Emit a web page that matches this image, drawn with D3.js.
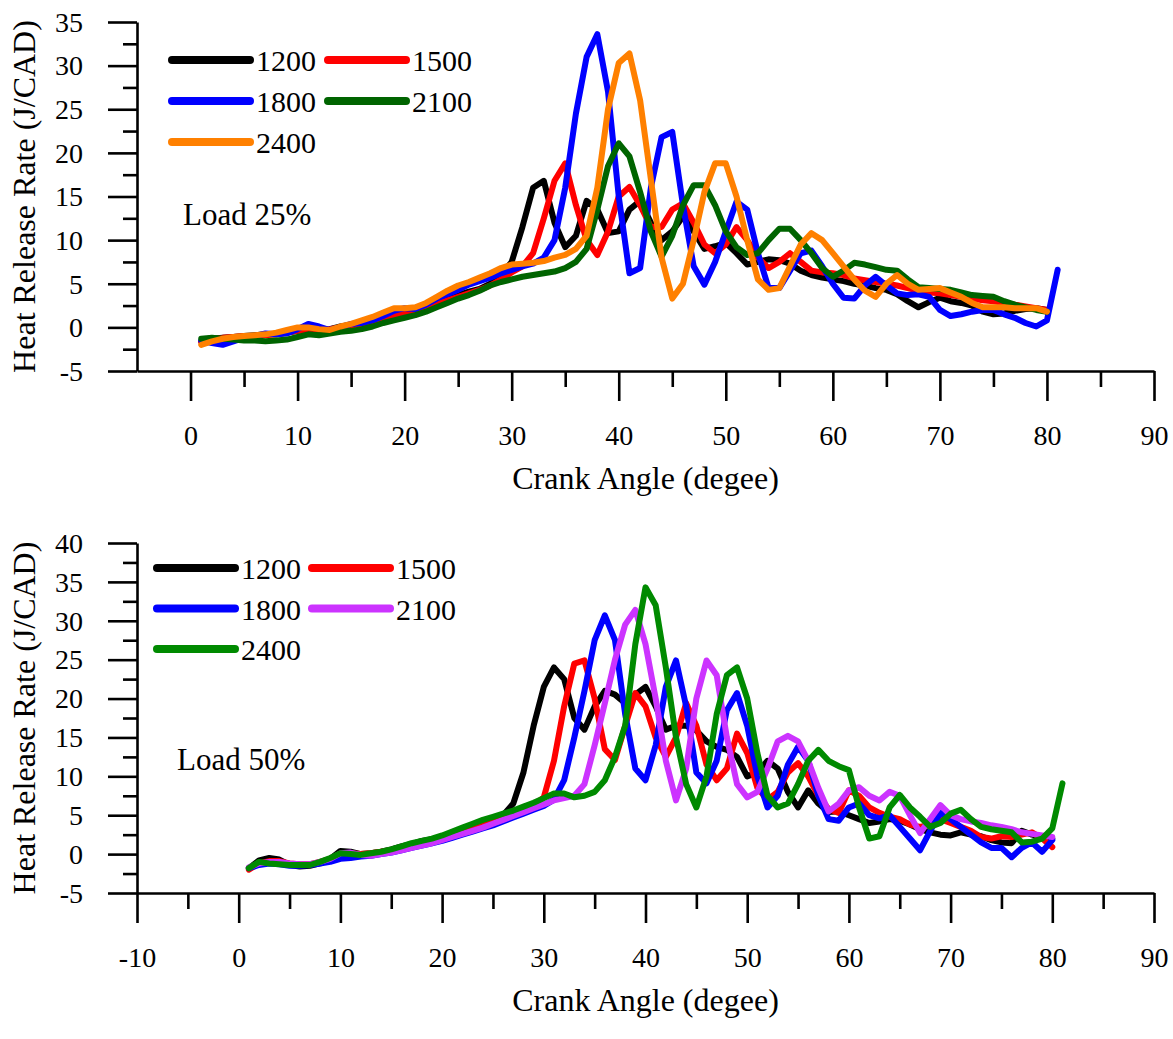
<!DOCTYPE html>
<html>
<head>
<meta charset="utf-8">
<script src="https://cdn.jsdelivr.net/npm/d3@7"></script>
<style>
  body { margin: 0; background: #fff; }
  text { font-family: "Liberation Serif", "Times New Roman", serif; fill: #000; }
</style>
</head>
<body>
<div id="chart"></div>
<script>
///////////////////////////
// DATA (crank angle starts at 1 deg, one value per degree)
///////////////////////////

const speeds = ['1200', '1500', '1800', '2100', '2400'];

// Load 25%
const top1200 = [-1.6,-1.3,-1.2,-1.1,-1.0,-0.9,-0.8,-0.8,-0.6,-0.4,-0.2,-0.3,-0.2,0.1,0.3,0.5,0.8,1.1,1.5,1.8,
    2.0,2.4,2.9,3.3,3.7,4.1,4.4,5.0,6.0,7.5,11.5,16.0,16.8,12.0,9.2,10.5,14.5,13.5,10.8,11.0,
    13.5,14.5,12.0,10.0,11.0,12.7,11.0,9.0,9.3,9.7,8.5,7.2,7.5,7.8,7.7,7.3,6.5,6.0,5.7,5.5,
    5.3,5.0,4.8,4.5,4.3,3.8,3.0,2.3,2.9,3.4,3.0,2.8,2.5,1.8,1.5,1.6,1.9,2.1,2.2,2.0];
const top1500 = [-1.7,-1.4,-1.2,-1.1,-1.0,-1.0,-0.9,-0.8,-0.6,-0.4,-0.3,-0.3,-0.2,0.0,0.2,0.4,0.7,1.0,1.3,1.6,
    1.9,2.3,2.7,3.1,3.5,3.9,4.3,4.8,5.5,6.3,7.0,8.5,12.5,16.8,18.8,14.0,10.0,8.3,11.0,15.0,
    16.1,14.0,11.5,11.5,13.5,14.2,12.0,9.5,8.5,9.5,11.5,10.0,8.0,6.8,7.5,8.5,7.5,6.5,6.3,6.2,
    6.0,5.6,5.4,5.2,5.0,4.8,4.5,4.2,4.0,3.9,3.7,3.5,3.3,3.1,3.0,2.8,2.6,2.4,2.2,2.0];
const top1800 = [-1.5,-1.8,-2.0,-1.6,-1.2,-1.0,-0.7,-0.8,-0.7,-0.2,0.4,0.1,-0.3,0.0,0.4,0.5,0.8,1.3,1.9,2.2,
    2.1,2.6,3.3,3.8,4.3,4.9,5.3,5.7,6.2,6.6,7.0,7.3,8.0,10.0,16.0,24.5,31.0,33.6,27.0,15.0,
    6.2,6.8,16.0,21.8,22.4,14.0,7.0,4.9,7.5,11.0,14.4,13.5,8.5,4.5,4.5,6.5,8.5,8.8,7.0,5.0,
    3.4,3.3,4.8,5.8,4.8,3.9,3.7,3.8,3.5,2.0,1.3,1.5,1.8,2.0,2.0,1.5,1.1,0.5,0.1,0.8,6.6];
const top2100 = [-1.3,-1.2,-1.3,-1.4,-1.5,-1.5,-1.6,-1.5,-1.4,-1.1,-0.8,-0.9,-0.7,-0.5,-0.4,-0.2,0.1,0.5,0.8,1.1,
    1.4,1.8,2.3,2.8,3.3,3.7,4.2,4.8,5.2,5.5,5.8,6.0,6.2,6.4,6.8,7.5,9.0,13.5,18.5,21.1,
    19.6,15.5,11.0,8.1,10.5,14.0,16.3,16.3,14.0,11.0,9.2,8.3,8.5,10.0,11.3,11.3,10.0,8.5,6.8,5.8,
    6.5,7.4,7.2,6.9,6.6,6.5,5.5,4.6,4.5,4.4,4.3,4.0,3.7,3.6,3.5,3.0,2.6,2.3,2.0,1.8];
const top2400 = [-2.0,-1.6,-1.3,-1.1,-1.0,-0.9,-0.8,-0.6,-0.3,0.0,0.0,-0.2,-0.3,0.1,0.4,0.8,1.2,1.7,2.2,2.2,
    2.3,2.8,3.5,4.2,4.8,5.2,5.7,6.2,6.8,7.2,7.3,7.4,7.6,8.0,8.3,9.0,10.5,16.0,25.0,30.3,
    31.4,26.0,17.0,8.0,3.3,5.0,10.0,15.5,18.8,18.8,15.0,10.0,5.5,4.3,4.5,7.0,9.5,10.8,10.0,8.5,
    7.0,5.5,4.2,3.5,5.0,6.0,5.0,4.3,4.4,4.5,4.0,3.5,2.8,2.3,2.3,2.3,2.2,2.2,2.2,1.8];

// Load 50%
const bot1200 = [-1.8,-0.8,-0.5,-0.7,-1.4,-1.6,-1.5,-1.2,-0.6,0.4,0.3,0.0,0.1,0.3,0.6,1.0,1.3,1.7,1.9,2.2,
    2.6,3.0,3.5,4.0,4.5,5.0,6.5,10.5,16.5,21.5,24.0,22.5,17.5,16.0,19.0,21.0,20.5,19.4,20.5,21.5,
    19.0,16.0,16.5,16.5,15.9,14.5,13.8,13.4,12.5,10.0,10.5,12.0,11.0,8.0,6.0,8.2,6.5,5.4,5.5,5.0,
    4.5,4.0,4.2,4.5,4.3,3.8,3.2,2.8,2.5,2.4,2.8,2.5,2.3,1.8,1.5,1.4,3.0,2.5,2.2,2.0];
const bot1500 = [-2.0,-1.2,-0.9,-0.9,-1.2,-1.3,-1.3,-1.0,-0.6,0.0,0.1,0.0,0.1,0.3,0.5,0.8,1.1,1.4,1.7,2.0,
    2.4,2.8,3.2,3.7,4.1,4.6,5.1,5.7,6.3,7.3,12.0,19.0,24.5,24.9,20.0,13.5,12.1,16.5,20.7,19.0,
    15.0,12.5,15.0,19.4,16.5,11.5,9.5,11.0,15.5,13.0,8.5,7.0,8.0,10.5,11.7,10.0,7.5,5.8,5.3,8.2,
    7.5,6.0,5.3,4.8,4.5,3.8,3.5,3.8,4.5,4.0,3.5,3.0,2.2,2.0,2.3,2.2,2.5,2.8,2.0,0.9];
const bot1800 = [-1.8,-1.4,-1.2,-1.3,-1.5,-1.5,-1.4,-1.2,-1.0,-0.6,-0.5,-0.3,-0.2,0.0,0.2,0.5,0.8,1.1,1.4,1.7,
    2.1,2.5,2.9,3.3,3.7,4.2,4.7,5.2,5.7,6.2,7.0,9.5,15.0,21.0,27.5,30.7,27.5,18.0,11.0,9.5,
    14.0,21.5,24.9,19.0,10.5,9.1,12.0,18.5,20.7,16.5,10.0,6.0,7.5,11.5,13.8,12.0,7.5,4.5,4.3,6.0,
    6.5,5.0,4.6,5.0,3.5,2.0,0.5,3.0,5.3,4.5,3.5,2.5,1.5,0.8,0.8,-0.4,0.8,1.5,0.3,1.8];
const bot2100 = [-1.7,-1.2,-1.0,-1.0,-1.2,-1.3,-1.3,-1.0,-0.6,0.1,0.2,-0.1,-0.2,0.0,0.2,0.5,0.8,1.1,1.4,1.8,
    2.2,2.6,3.0,3.4,3.9,4.4,4.9,5.4,5.9,6.4,6.9,7.2,7.5,9.0,14.0,19.4,25.0,29.5,31.4,27.0,
    20.0,12.0,6.9,11.0,20.0,24.9,23.0,15.0,9.0,7.3,8.0,11.0,14.5,15.2,14.5,12.0,8.5,5.5,6.5,8.2,
    8.6,7.5,6.9,8.0,7.5,5.0,2.7,4.5,6.3,5.0,4.5,4.2,4.0,3.7,3.5,3.2,2.8,2.6,2.4,2.2];
const bot2400 = [-1.8,-1.0,-1.2,-1.3,-1.4,-1.4,-1.4,-1.0,-0.5,0.1,0.0,-0.1,0.1,0.3,0.6,1.0,1.4,1.7,2.0,2.4,
    2.9,3.4,3.9,4.4,4.8,5.2,5.6,6.1,6.6,7.2,7.8,7.8,7.3,7.5,8.0,9.5,12.5,16.5,27.0,34.3,
    32.0,24.0,15.0,9.0,6.0,10.0,18.0,23.0,24.0,20.0,13.0,7.5,6.0,6.5,9.0,12.0,13.4,12.0,11.3,10.8,
    6.0,2.0,2.3,6.0,7.6,6.0,4.8,3.5,4.0,5.2,5.7,4.5,3.5,3.2,3.0,2.8,1.5,1.6,2.0,3.3,9.1];

const topXTicks = [0, 10, 20, 30, 40, 50, 60, 70, 80, 90];
const botXTicks = [-10, 0, 10, 20, 30, 40, 50, 60, 70, 80, 90];
const topYTicks = [-5, 0, 5, 10, 15, 20, 25, 30, 35];
const botYTicks = [-5, 0, 5, 10, 15, 20, 25, 30, 35, 40];

const topColors = ['#000000', '#ff0000', '#0000ff', '#006400', '#ff8000'];
const botColors = ['#000000', '#ff0000', '#0000ff', '#cc33ff', '#008a00'];

///////////////////////////
// CHART
///////////////////////////

const svg = d3.select('#chart')
    .append('svg')
    .attr('width', 1173)
    .attr('height', 1039);

svg.append('rect')
    .attr('width', 1173)
    .attr('height', 1039)
    .style('fill', '#fff');

const panels = [
    {
        series: [top1200, top1500, top1800, top2100, top2400],
        colors: topColors,
        xDomain: [-5, 90], yDomain: [-5, 35],
        xTicks: topXTicks, yTicks: topYTicks,
        left: 137, right: 1154, top: 22, bottom: 371,
        label: 'Load 25%', labelX: 183, labelY: 225,
        legendX: 172, legendY: 60, legendCol: 156, legendRow: 41
    },
    {
        series: [bot1200, bot1500, bot1800, bot2100, bot2400],
        colors: botColors,
        xDomain: [-10, 90], yDomain: [-5, 40],
        xTicks: botXTicks, yTicks: botYTicks,
        left: 137, right: 1154, top: 543, bottom: 893,
        label: 'Load 50%', labelX: 177, labelY: 770,
        legendX: 157, legendY: 568, legendCol: 155, legendRow: 40.5
    }
];

// plain hyphen for negatives, like the original
const fmt = (d) => String(d);

const drawPanel = (p) => {
    const x = d3.scaleLinear().domain(p.xDomain).range([p.left, p.right]);
    const y = d3.scaleLinear().domain(p.yDomain).range([p.bottom, p.top]);
    const g = svg.append('g');

    // minor ticks at the half steps
    const xMinor = p.xTicks.map(d => d + 5).filter(d => d < p.xDomain[1]);
    const yMinor = p.yTicks.map(d => d + 2.5).filter(d => d < p.yDomain[1]);

    g.append('g')
        .attr('transform', `translate(0,${p.bottom})`)
        .call(d3.axisBottom(x).tickValues(xMinor).tickSize(16).tickFormat(''))
        .call(a => a.select('.domain').remove());

    g.append('g')
        .attr('transform', `translate(${p.left},0)`)
        .call(d3.axisLeft(y).tickValues(yMinor).tickSize(14).tickFormat(''))
        .call(a => a.select('.domain').remove());

    const xAxis = g.append('g')
        .attr('transform', `translate(0,${p.bottom})`)
        .call(d3.axisBottom(x).tickValues(p.xTicks).tickSize(30).tickSizeOuter(0).tickFormat(fmt));
    xAxis.selectAll('text')
        .attr('y', 74)
        .attr('dy', 0)
        .style('font-size', '28px');

    const yAxis = g.append('g')
        .attr('transform', `translate(${p.left},0)`)
        .call(d3.axisLeft(y).tickValues(p.yTicks).tickSize(29).tickSizeOuter(0).tickFormat(fmt));
    yAxis.selectAll('text')
        .attr('x', -54)
        .attr('dy', '0.33em')
        .style('font-size', '28px');

    g.selectAll('.domain, .tick line')
        .style('stroke', '#000')
        .style('stroke-width', 2.6);
    g.selectAll('.tick text').style('font-family', '"Liberation Serif", serif');

    // lines
    const line = d3.line()
        .x((d, i) => x(i + 1))
        .y(d => y(d));

    g.selectAll('.series')
        .data(p.series)
        .enter().append('path')
        .attr('class', 'series')
        .attr('d', d => line(d))
        .style('fill', 'none')
        .style('stroke', (d, i) => p.colors[i])
        .style('stroke-width', 6)
        .style('stroke-linejoin', 'round')
        .style('stroke-linecap', 'round');

    // legend, two columns
    const legend = g.selectAll('.legend')
        .data(speeds)
        .enter().append('g')
        .attr('class', 'legend')
        .attr('transform', (d, i) =>
            `translate(${p.legendX + (i % 2) * p.legendCol},${p.legendY + Math.floor(i / 2) * p.legendRow})`);

    legend.append('line')
        .attr('x1', 0).attr('x2', 78)
        .style('stroke', (d, i) => p.colors[i])
        .style('stroke-width', 8)
        .style('stroke-linecap', 'round');

    legend.append('text')
        .attr('x', 84)
        .attr('y', 11)
        .style('font-size', '30px')
        .text(d => d);

    g.append('text')
        .attr('x', p.labelX)
        .attr('y', p.labelY)
        .style('font-size', '31px')
        .text(p.label);

    // axis titles
    g.append('text')
        .attr('transform', `translate(35,${(p.top + p.bottom) / 2}) rotate(-90)`)
        .attr('text-anchor', 'middle')
        .style('font-size', '32px')
        .text('Heat Release Rate (J/CAD)');

    g.append('text')
        .attr('x', (p.left + p.right) / 2)
        .attr('y', p.bottom + 118)
        .attr('text-anchor', 'middle')
        .style('font-size', '32px')
        .text('Crank Angle (degee)');
}

panels.forEach(drawPanel);
</script>
</body>
</html>
